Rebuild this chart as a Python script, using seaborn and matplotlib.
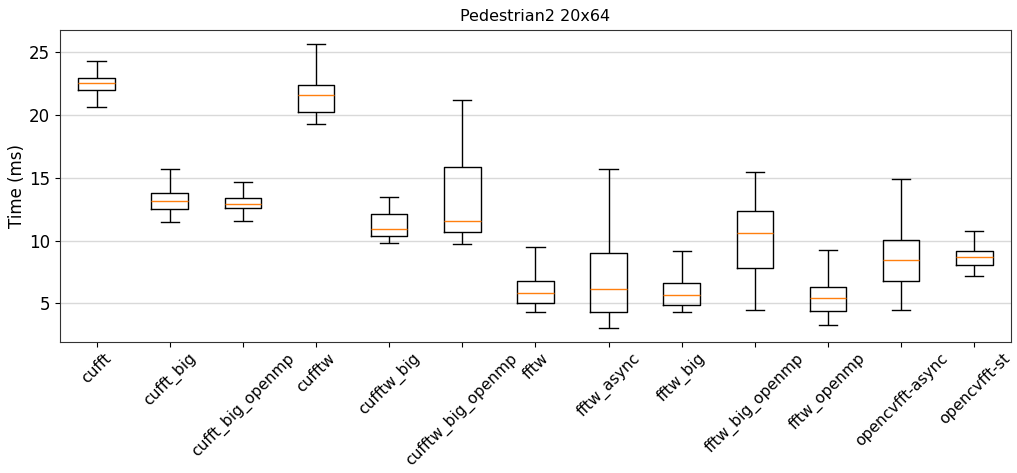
import numpy as np
import matplotlib
matplotlib.use("Agg")
import matplotlib.pyplot as plt
import seaborn as sns
import pandas as pd

# box stats: whisker low, q1, median, q3, whisker high
methods = ["cufft", "cufft_big", "cufft_big_openmp", "cufftw", "cufftw_big",
           "cufftw_big_openmp", "fftw", "fftw_async", "fftw_big",
           "fftw_big_openmp", "fftw_openmp", "opencvfft-async", "opencvfft-st"]
low = [20.63, 11.48, 11.53, 19.23, 9.81, 9.76, 4.31, 3.06, 4.29, 4.47, 3.28, 4.49, 7.19]
q1 = [22.00, 12.48, 12.56, 20.24, 10.37, 10.71, 5.00, 4.33, 4.89, 7.83, 4.41, 6.77, 8.04]
median = [22.51, 13.17, 12.94, 21.59, 10.92, 11.59, 5.82, 6.16, 5.63, 10.56, 5.44, 8.46, 8.67]
q3 = [22.90, 13.78, 13.38, 22.40, 12.11, 15.84, 6.79, 8.97, 6.61, 12.33, 6.32, 10.08, 9.15]
high = [24.31, 15.68, 14.63, 25.63, 13.46, 21.19, 9.49, 15.68, 9.17, 15.44, 9.23, 14.87, 10.79]

# five points per method reproduce exactly these quartiles
rows = []
for i, m in enumerate(methods):
    for v in (low[i], q1[i], median[i], q3[i], high[i]):
        rows.append({"method": m, "time": v})
df = pd.DataFrame(rows)

fig = plt.figure(figsize=(10.17, 4.73), dpi=100)
ax = fig.add_axes([0.059, 0.277, 0.935, 0.66])

sns.boxplot(data=df, x="method", y="time", order=methods, whis=(0, 100),
            width=0.5, fill=False, color="black", linewidth=1,
            medianprops={"color": "#ff7f0e", "linewidth": 1}, ax=ax)

ax.set_xlim(-0.5, len(methods) - 0.5)
ax.set_ylim(1.93, 26.76)
ax.set_yticks([5, 10, 15, 20, 25])
ax.yaxis.grid(True, color="#d9d9d9", linewidth=1)
ax.set_axisbelow(True)
ax.set_xlabel("")
ax.set_ylabel("Time (ms)", fontsize=12, labelpad=2)
ax.set_title("Pedestrian2 20x64", fontsize=11.5)
ax.tick_params(axis="y", labelsize=12)
ax.tick_params(axis="x", labelsize=11.2, pad=2.5)
plt.setp(ax.get_xticklabels(), rotation=45)
for s in ax.spines.values():
    s.set_color("#333333")

fig.savefig("out.png", dpi=100)
